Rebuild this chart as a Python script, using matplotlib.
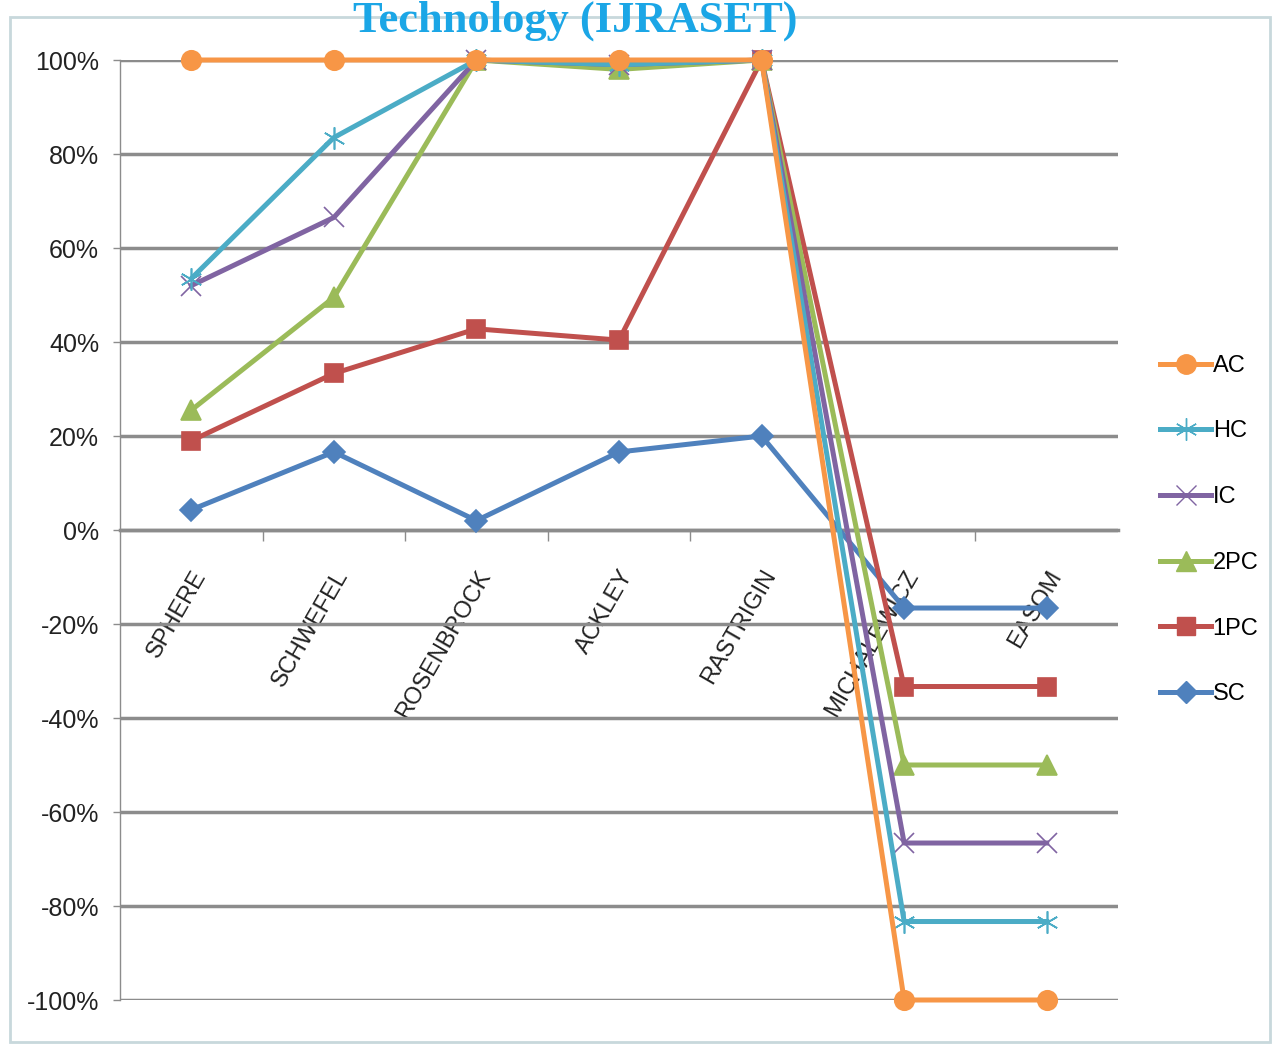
import matplotlib
matplotlib.use("Agg")
import matplotlib.pyplot as plt
from matplotlib.ticker import FuncFormatter, FixedLocator
from matplotlib.patches import Rectangle
from matplotlib.lines import Line2D

categories = ["SPHERE", "SCHWEFEL", "ROSENBROCK", "ACKLEY", "RASTRIGIN", "MICHALEWICZ", "EASOM"]
series_names = ["AC", "HC", "IC", "2PC", "1PC", "SC"]
ac = [100, 100, 100, 100, 100, -100, -100]
hc = [53.5, 83.5, 100, 99, 100, -83.3, -83.3]
ic = [52, 66.5, 100, 99, 100, -66.6, -66.6]
pc2 = [25.5, 49.5, 100, 98, 100, -50, -50]
pc1 = [19, 33.3, 42.8, 40.4, 100, -33.3, -33.3]
sc = [4.3, 16.6, 2, 16.6, 20, -16.6, -16.6]
yticks = [-100, -80, -60, -40, -20, 0, 20, 40, 60, 80, 100]

colors = {"AC": "#F79646", "HC": "#4BACC6", "IC": "#8064A2",
          "2PC": "#9BBB59", "1PC": "#C0504D", "SC": "#4F81BD"}
markers = {"AC": "o", "HC": (6, 2, 0), "IC": "x", "2PC": "^", "1PC": "s", "SC": "D"}
msize = {"AC": 14, "HC": 16, "IC": 14, "2PC": 14, "1PC": 13, "SC": 11}
data = {"AC": ac, "HC": hc, "IC": ic, "2PC": pc2, "1PC": pc1, "SC": sc}

fig = plt.figure(figsize=(12.74, 10.49), dpi=100)
ax = fig.add_axes([120/1274, 1 - 1000/1049, (1118-120)/1274, (1000-60)/1049])

x = list(range(len(categories)))
draw_order = ["SC", "1PC", "2PC", "IC", "HC", "AC"]
for name in draw_order:
    ax.plot(x, data[name], color=colors[name], lw=3.6, marker=markers[name],
            markersize=msize[name], markeredgewidth=1.2,
            markeredgecolor=colors[name], zorder=3, clip_on=False)

ax.set_xlim(-0.5, len(categories) - 0.5)
ax.set_ylim(-100, 100)
ax.yaxis.set_major_locator(FixedLocator(yticks))
ax.yaxis.set_major_formatter(FuncFormatter(lambda v, p: f"{int(v)}%"))
ax.grid(axis="y", color="#8C8C8C", lw=2.5, zorder=1)
ax.set_axisbelow(True)

for s in ["top", "right"]:
    ax.spines[s].set_visible(False)
ax.spines["left"].set_color("#8C8C8C")
ax.spines["left"].set_linewidth(1.0)
ax.spines["bottom"].set_position(("data", 0))
ax.spines["bottom"].set_color("#8C8C8C")
ax.spines["bottom"].set_linewidth(2.5)

ax.set_xticks(x)
ax.set_xticklabels(categories, rotation=60, ha="right", va="top",
                   rotation_mode="anchor", fontsize=17, color="#222222",
                   family="Liberation Sans")
ax.tick_params(axis="x", which="major", length=0, pad=26)
ax.set_xticks([i + 0.5 for i in range(len(categories) - 1)], minor=True)
ax.tick_params(axis="x", which="minor", length=8, width=1, color="#8C8C8C", direction="out")
ax.tick_params(axis="y", length=5, width=1, color="#8C8C8C", labelsize=18,
               labelcolor="#222222", pad=10)
for lab in ax.get_yticklabels():
    lab.set_family("Liberation Sans")

handles = [Line2D([0], [0], color=colors[n], lw=3.6, marker=markers[n],
                  markersize=msize[n], markeredgecolor=colors[n]) for n in series_names]
leg = fig.legend(handles, series_names, loc="center left",
                 bbox_to_anchor=(1143/1274, 1 - 530/1049), frameon=False,
                 prop={"family": "Liberation Sans", "size": 17},
                 labelspacing=1.85, handlelength=2.2, handletextpad=0.05,
                 borderpad=0.2)

fig.patches.append(Rectangle((10/1274, 1 - 1042/1049), 1260/1274, 1025/1049,
                             transform=fig.transFigure, fill=False,
                             edgecolor="#C8D8DC", lw=2))

fig.text(575/1274, 1 - 32/1049, "Technology (IJRASET)", ha="center", va="baseline",
         fontsize=32, fontweight="bold", family="Liberation Serif", color="#1BA6E6")

fig.savefig("out.png", dpi=100)
